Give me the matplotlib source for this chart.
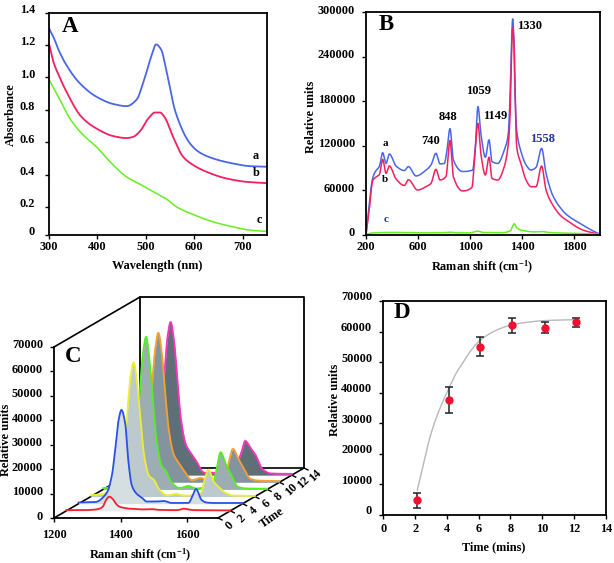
import numpy as np
import matplotlib
matplotlib.use("Agg")
import matplotlib.pyplot as plt
from matplotlib.transforms import Affine2D, ScaledTranslation

W, H = 614, 563
plt.rcParams.update({'font.family': ['Liberation Serif', 'DejaVu Serif'], 'font.weight': 'bold',
                     'font.size': 8.8, 'axes.linewidth': 1.3, 'xtick.major.width': 1.0, 'ytick.major.width': 1.0,
                     'xtick.major.size': 3, 'ytick.major.size': 3, 'axes.labelweight': 'bold',
                     'mathtext.fontset': 'custom', 'mathtext.rm': 'Liberation Serif:bold',
                     'mathtext.bf': 'Liberation Serif:bold', 'mathtext.default': 'rm'})

BLUE, RED, GREEN = '#4a66e8', '#f2205e', '#66ee22'

# Panel A
wl_a = [300,309,320,336,364,398,433,460,481,494,512,521,531,543,561,591,611,639,680,714,749]
abs_a = [1.302,1.25,1.168,1.075,0.962,0.88,0.835,0.822,0.863,0.962,1.137,1.203,1.174,1.034,0.787,0.592,0.536,0.499,0.468,0.452,0.448]
wl_b = [300,309,320,336,367,398,433,460,474,488,505,519,529,539,556,577,598,625,666,707,749]
abs_b = [1.209,1.096,1.014,0.911,0.756,0.684,0.637,0.625,0.633,0.668,0.746,0.783,0.783,0.752,0.633,0.509,0.458,0.417,0.376,0.355,0.347]
wl_c = [300,323,343,371,398,426,460,491,522,543,563,598,639,680,714,749]
abs_c = [0.987,0.859,0.746,0.643,0.571,0.479,0.386,0.335,0.283,0.248,0.201,0.153,0.108,0.077,0.057,0.049]

# Panel B
shift_a = [200,226,251,272,303,328,354,380,431,495,526,585,662,700,738,769,803,823,846,872,944,1020,1041,1061,1085,1118,1146,1169,1213,1264,1295,1307,1318,1328,1338,1346,1359,1392,1431,1469,1508,1551,1585,1636,1700,1742,1870,1950,2000]
rel_a = [0,42500,75700,85000,92000,110500,96000,108700,92500,86300,91700,79000,87000,93900,109700,95300,96000,114000,143000,100600,85000,87000,118700,172700,134500,104300,127800,98500,96000,114000,136600,182000,249000,291000,263000,190000,141000,112000,94000,87000,90600,116300,82600,53000,35000,27000,12600,4500,500]
shift_b = [200,226,251,272,303,328,354,380,431,495,526,597,662,700,738,769,815,846,872,944,1015,1033,1061,1085,1118,1146,1169,1213,1264,1295,1308,1318,1328,1338,1359,1392,1431,1469,1508,1551,1585,1636,1700,1742,1870,2000]
rel_b = [0,35000,72800,77000,81000,101500,82600,92500,75000,66200,74000,60000,64600,69000,88000,73600,78000,126800,78000,58800,63700,96000,150000,107000,80400,104300,75800,73600,91700,123000,160000,236000,278700,258000,118500,96000,73600,64600,64500,92500,60000,40000,25000,19400,5900,0]
shift_c = [200,240,400,600,800,850,900,1000,1060,1100,1250,1310,1330,1340,1360,1400,1500,1558,1600,1800,2000]
rel_c = [0,2000,2800,2200,2500,3000,2200,2200,4500,2800,2500,5000,12000,14500,9000,5500,3500,4000,2800,1500,500]

# Panel C
shift_grid = [1200,1250,1285,1300,1310,1320,1329,1340,1350,1360,1375,1390,1405,1430,1457,1480,1530,1542,1553,1570,1585,1605,1630,1693]
time_c = [2, 4, 6, 8, 10, 12]
spec_2 = [300,300,500,900,1800,4500,5800,4800,2800,1700,1200,900,800,600,700,400,300,500,900,500,300,300,200,200]
spec_4 = [500,700,4500,11500,22000,34000,38400,33000,17000,7500,4000,2500,900,900,1100,300,300,3000,6000,1500,500,300,300,300]
spec_6 = [500,1500,9000,20000,35000,50000,55000,45000,30000,17000,8500,6800,3000,500,1100,400,1400,6800,11000,6000,3800,1500,400,300]
spec_8 = [500,1500,10000,23000,40000,56000,62500,52000,36000,21000,10000,7300,3000,600,1400,400,2500,9000,15200,10000,6000,1100,400,300]
spec_10 = [500,1500,10000,22000,40000,55000,61200,52000,36000,22000,11500,8000,5000,900,1800,500,3000,9000,13700,9500,6000,1500,700,500]
spec_12 = [500,1500,10000,23000,41000,57000,62700,54000,38000,23000,12500,9000,6000,1000,1000,600,5300,9500,14000,11000,8100,2500,700,500]

# Panel D
time_d = [2.14,4.16,6.07,8.1,10.15,12.16]
rel_d = [4900,37700,55100,62000,61300,63000]
err_d = [2450,4200,3000,2550,1800,1500]
fit_t = [2.14,2.54,2.94,3.5,4.16,4.6,5.04,5.5,6.07,6.6,7.14,8.1,9,10.15,12.16]
fit_v = [8150,16800,25500,34000,41800,46500,50000,53700,57000,59000,60500,62200,63000,63600,63900]


def smooth(x, y, n=12):
    """Monotone cubic drawing of a polyline through the read points."""
    x, y = np.asarray(x, float), np.asarray(y, float)
    h = np.diff(x); d = np.diff(y) / h
    m = np.zeros_like(x); m[0], m[-1] = d[0], d[-1]
    for i in range(1, len(x) - 1):
        if d[i-1] * d[i] > 0:
            w1, w2 = 2*h[i] + h[i-1], h[i] + 2*h[i-1]
            m[i] = (w1 + w2) / (w1/d[i-1] + w2/d[i])
    xs, ys = [], []
    for i in range(len(h)):
        s = np.linspace(0, 1, n, endpoint=False)
        xs.append(x[i] + s*h[i])
        ys.append((2*s**3-3*s**2+1)*y[i] + (s**3-2*s**2+s)*h[i]*m[i] + (-2*s**3+3*s**2)*y[i+1] + (s**3-s**2)*h[i]*m[i+1])
    return np.r_[np.concatenate(xs), x[-1]], np.r_[np.concatenate(ys), y[-1]]


fig = plt.figure(figsize=(W/100, H/100), dpi=100)

def axes_px(l, r, t, b):
    return fig.add_axes([l/W, 1-b/H, (r-l)/W, (b-t)/H])

def ftext(x, y, s, **kw):
    kw.setdefault('ha', 'center'); kw.setdefault('va', 'center')
    return fig.text(x/W, 1-y/H, s, **kw)

def lift(ax, px):
    for lab in ax.get_yticklabels():
        lab.set_transform(lab.get_transform() + ScaledTranslation(0, px/100, fig.dpi_scale_trans))

RAMAN = 'Raman shift (cm$^{-1}$)'

# ---- A
axA = axes_px(49, 267, 12.5, 234.5)
axA.plot(*smooth(wl_a, abs_a), color=BLUE, lw=1.3)
axA.plot(*smooth(wl_b, abs_b), color=RED, lw=1.3)
axA.plot(*smooth(wl_c, abs_c), color=GREEN, lw=1.1)
axA.set_xlim(300, 750); axA.set_ylim(0.03, 1.4)
axA.set_xticks([300,400,500,600,700])
axA.set_yticks([0.03,0.2,0.4,0.6,0.8,1.0,1.2,1.4])
axA.set_yticklabels(['0','0.2','0.4','0.6','0.8','1.0','1.2','1.4'])
axA.tick_params(axis='x', pad=2); axA.tick_params(axis='y', pad=7)
lift(axA, 4)
ftext(157, 266, 'Wavelength (nm)'); ftext(11, 115, 'Absorbance', rotation=90)
ftext(70, 27, 'A', fontsize=16.5)
ftext(256, 156, 'a'); ftext(256, 173, 'b'); ftext(259, 220, 'c')

# ---- B
axB = axes_px(366, 600, 12.3, 234.5)
axB.plot(*smooth(shift_a, rel_a), color=BLUE, lw=1.1)
axB.plot(*smooth(shift_b, rel_b), color=RED, lw=1.1)
axB.plot(*smooth(shift_c, rel_c), color=GREEN, lw=1.1)
axB.set_xlim(200, 2000); axB.set_ylim(0, 300000)
axB.set_xticks([200,600,1000,1400,1800])
axB.set_yticks([0,60000,120000,180000,240000,300000])
axB.tick_params(axis='x', pad=2); axB.tick_params(axis='y', pad=5)
lift(axB, 3)
ftext(431, 271, RAMAN, ha='left', va='baseline'); ftext(311, 117, 'Relative units', rotation=90)
ftext(386, 25, 'B', fontsize=16.5)
ftext(385, 143, 'a', fontsize=8); ftext(385, 179, 'b', fontsize=8); ftext(386, 219, 'c', fontsize=8, color='#223399')
for x, y, s, c in [(431,141,'740','k'),(448,117,'848','k'),(479,91,'1059','k'),(495,116,'1149','k'),(530,26,'1330','k'),(543,139,'1558','#223399')]:
    ftext(x, y, s, color=c, fontsize=9)

# ---- C
axC = axes_px(54, 218, 347, 518)
axC.set_xlim(1200, 1693); axC.set_ylim(0, 70000)
axC.patch.set_alpha(0)
for s in ['top', 'right']:
    axC.spines[s].set_visible(False)
axC.set_xticks([1200,1400,1600])
axC.set_yticks(range(0, 70001, 10000))
axC.tick_params(axis='x', pad=5); axC.tick_params(axis='y', pad=5)
lift(axC, 3)

def depth(t):
    return axC.transData + Affine2D().translate(t*86/14, t*50/14)

back = depth(14)
axC.plot([1200,1200,1693,1693], [0,70000,70000,0], color='k', lw=1.3, transform=back, clip_on=False, zorder=1)
axC.plot([1200,1693], [0,0], color='k', lw=1.2, transform=back, clip_on=False, zorder=1)
for xv, yv in [(1200,70000),(1200,0),(1693,0)]:
    p0 = axC.transData.transform((xv,yv)); p1 = back.transform((xv,yv))
    inv = axC.transData.inverted()
    q0, q1 = inv.transform(p0), inv.transform(p1)
    axC.plot([q0[0],q1[0]], [q0[1],q1[1]], color='k', lw=1.2, clip_on=False, zorder=1)

series = [(12,spec_12,'#ff30c0','#5f6f78'),(10,spec_10,'#f5a030','#84949f'),(8,spec_8,'#55ee22','#9dadb4'),
          (6,spec_6,'#eeee30','#bcc9cd'),(4,spec_4,'#2a50e8','#d5dfe2'),(2,spec_2,'#ee2233','#e8eeee')]
for i, (t, sp, col, fc) in enumerate(series):
    tr = depth(t)
    sx, sy = smooth(shift_grid, sp)
    axC.fill_between(sx, 0, sy, color=fc, lw=0, transform=tr, clip_on=False, zorder=2+i)
    axC.plot(sx, sy, color=col, lw=1.3, transform=tr, clip_on=False, zorder=2+i)

for t in range(0, 15, 2):
    tr = depth(t)
    axC.plot([1693,1705], [0,-800], color='k', lw=1.0, transform=tr, clip_on=False, zorder=1)
    axC.text(1715, -1300, str(t), transform=tr, rotation=45, ha='center', va='top', rotation_mode='anchor', clip_on=False)
ftext(89, 559, RAMAN, ha='left', va='baseline')
ftext(6, 440, 'Relative units', rotation=90)
ftext(272, 518, 'Time', rotation=35)
ftext(73, 356, 'C', fontsize=16.5)

# ---- D
axD = axes_px(383.3, 605.7, 301, 515)
axD.plot(*smooth(fit_t, fit_v), color='#b8b8b8', lw=1.0)
axD.errorbar(time_d, rel_d, yerr=err_d, fmt='none', ecolor='#222222', elinewidth=1.1, capsize=2.6, capthick=1.1)
axD.plot(time_d, rel_d, 'o', color='#f01030', ms=5, ls='none', zorder=5)
axD.set_xlim(0, 14); axD.set_ylim(0, 70000)
axD.set_xticks(range(0, 15, 2)); axD.set_yticks(range(0, 70001, 10000))
axD.tick_params(axis='x', pad=3); axD.tick_params(axis='y', pad=5)
lift(axD, 5)
ftext(494, 547, 'Time (mins)'); ftext(335, 400, 'Relative units', rotation=90)
ftext(402, 313, 'D', fontsize=16.5)

fig.savefig('out.png', dpi=100)
